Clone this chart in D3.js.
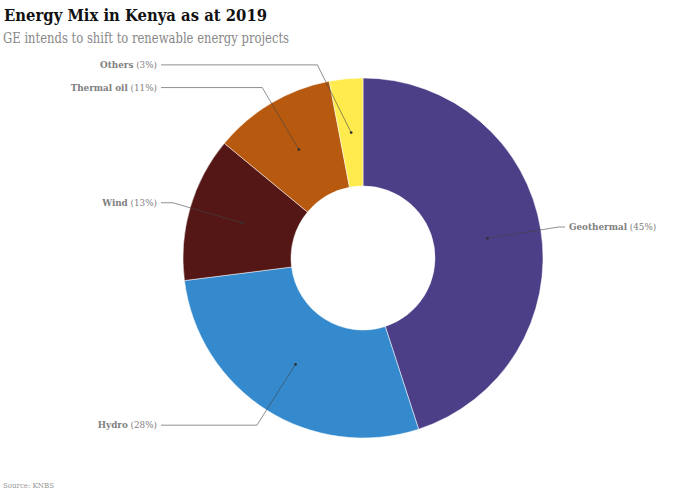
<!DOCTYPE html>
<html>
<head>
<meta charset="utf-8">
<script src="https://cdn.jsdelivr.net/npm/d3@7"></script>
<style>
  html, body { margin: 0; padding: 0; background: #fff; }
  text { font-family: "DejaVu Serif", "Liberation Serif", serif; }
</style>
</head>
<body>
<svg id="chart" width="685" height="495"></svg>
<script>
const sources = ["Geothermal", "Hydro", "Wind", "Thermal oil", "Others"];
const shares = [45, 28, 13, 11, 3];
const slice_colors = ["#4c3f87", "#348acd", "#541716", "#b7590e", "#ffeb4d"];

const title_text = "Energy Mix in Kenya as at 2019";
const subtitle_text = "GE intends to shift to renewable energy projects";
const source_text = "Source: KNBS";

const width = 685, height = 495;
const cx = 363, cy = 258;
const outer_r = 180, inner_r = 72;
const dot_r = (outer_r + inner_r) / 2;
const elbow_r = dot_r + 72;
const left_x = 161, right_x = 565;

const svg = d3.select("#chart");

svg.append("text").attr("x", 4).attr("y", 21)
    .attr("font-size", 16.5).attr("font-weight", "bold").attr("fill", "#111")
    .attr("textLength", 263).attr("lengthAdjust", "spacingAndGlyphs")
    .text(title_text);

svg.append("text").attr("x", 3).attr("y", 43)
    .attr("font-size", 14).attr("fill", "#888")
    .attr("textLength", 286).attr("lengthAdjust", "spacingAndGlyphs")
    .text(subtitle_text);

svg.append("text").attr("x", 3).attr("y", 488)
    .attr("font-size", 8).attr("fill", "#999")
    .attr("textLength", 51).attr("lengthAdjust", "spacingAndGlyphs")
    .text(source_text);

const pie = d3.pie().sort(null).value(d => d);
const arc = d3.arc().innerRadius(inner_r).outerRadius(outer_r);
const slices = pie(shares);

const g = svg.append("g").attr("transform", `translate(${cx},${cy})`);

g.selectAll("path.slice").data(slices).enter().append("path")
    .attr("class", "slice")
    .attr("d", arc)
    .attr("fill", (d, i) => slice_colors[i])
    .attr("stroke", "#fff")
    .attr("stroke-width", 0.5);

const polar = (r, a) => [r * Math.sin(a), -r * Math.cos(a)];
const mid_angle = d => (d.startAngle + d.endAngle) / 2;

// Others would collide with Thermal oil, so its elbow is pushed aside
const elbow_nudge = { "Others": [-27, 4] };

const leaders = slices.map((d, i) => {
    const a = mid_angle(d);
    const dot = polar(dot_r, a);
    const nudge = elbow_nudge[sources[i]] || [0, 0];
    const e = polar(elbow_r, a);
    const elbow = [e[0] + nudge[0], e[1] + nudge[1]];
    const is_right = a < Math.PI;
    const end = [(is_right ? right_x : left_x) - cx, elbow[1]];
    return { name: sources[i], share: shares[i], dot, elbow, end, is_right };
});

const line = d3.line();

g.selectAll("path.leader").data(leaders).enter().append("path")
    .attr("class", "leader")
    .attr("d", d => line([d.dot, d.elbow, d.end]))
    .attr("fill", "none")
    .attr("stroke", "#444")
    .attr("stroke-opacity", 0.75)
    .attr("stroke-width", 0.8);

g.selectAll("circle.dot").data(leaders).enter().append("circle")
    .attr("class", "dot")
    .attr("cx", d => d.dot[0])
    .attr("cy", d => d.dot[1])
    .attr("r", 1.4)
    .attr("fill", "#333");

const labels = g.selectAll("text.label").data(leaders).enter().append("text")
    .attr("class", "label")
    .attr("x", d => d.end[0] + (d.is_right ? 4 : -4))
    .attr("y", d => d.end[1] + 3)
    .attr("text-anchor", d => d.is_right ? "start" : "end")
    .attr("font-size", 8.8)
    .attr("fill", "#808080");

labels.append("tspan").attr("font-weight", "bold").text(d => d.name);
labels.append("tspan").text(d => ` (${d.share}%)`);
</script>
</body>
</html>
